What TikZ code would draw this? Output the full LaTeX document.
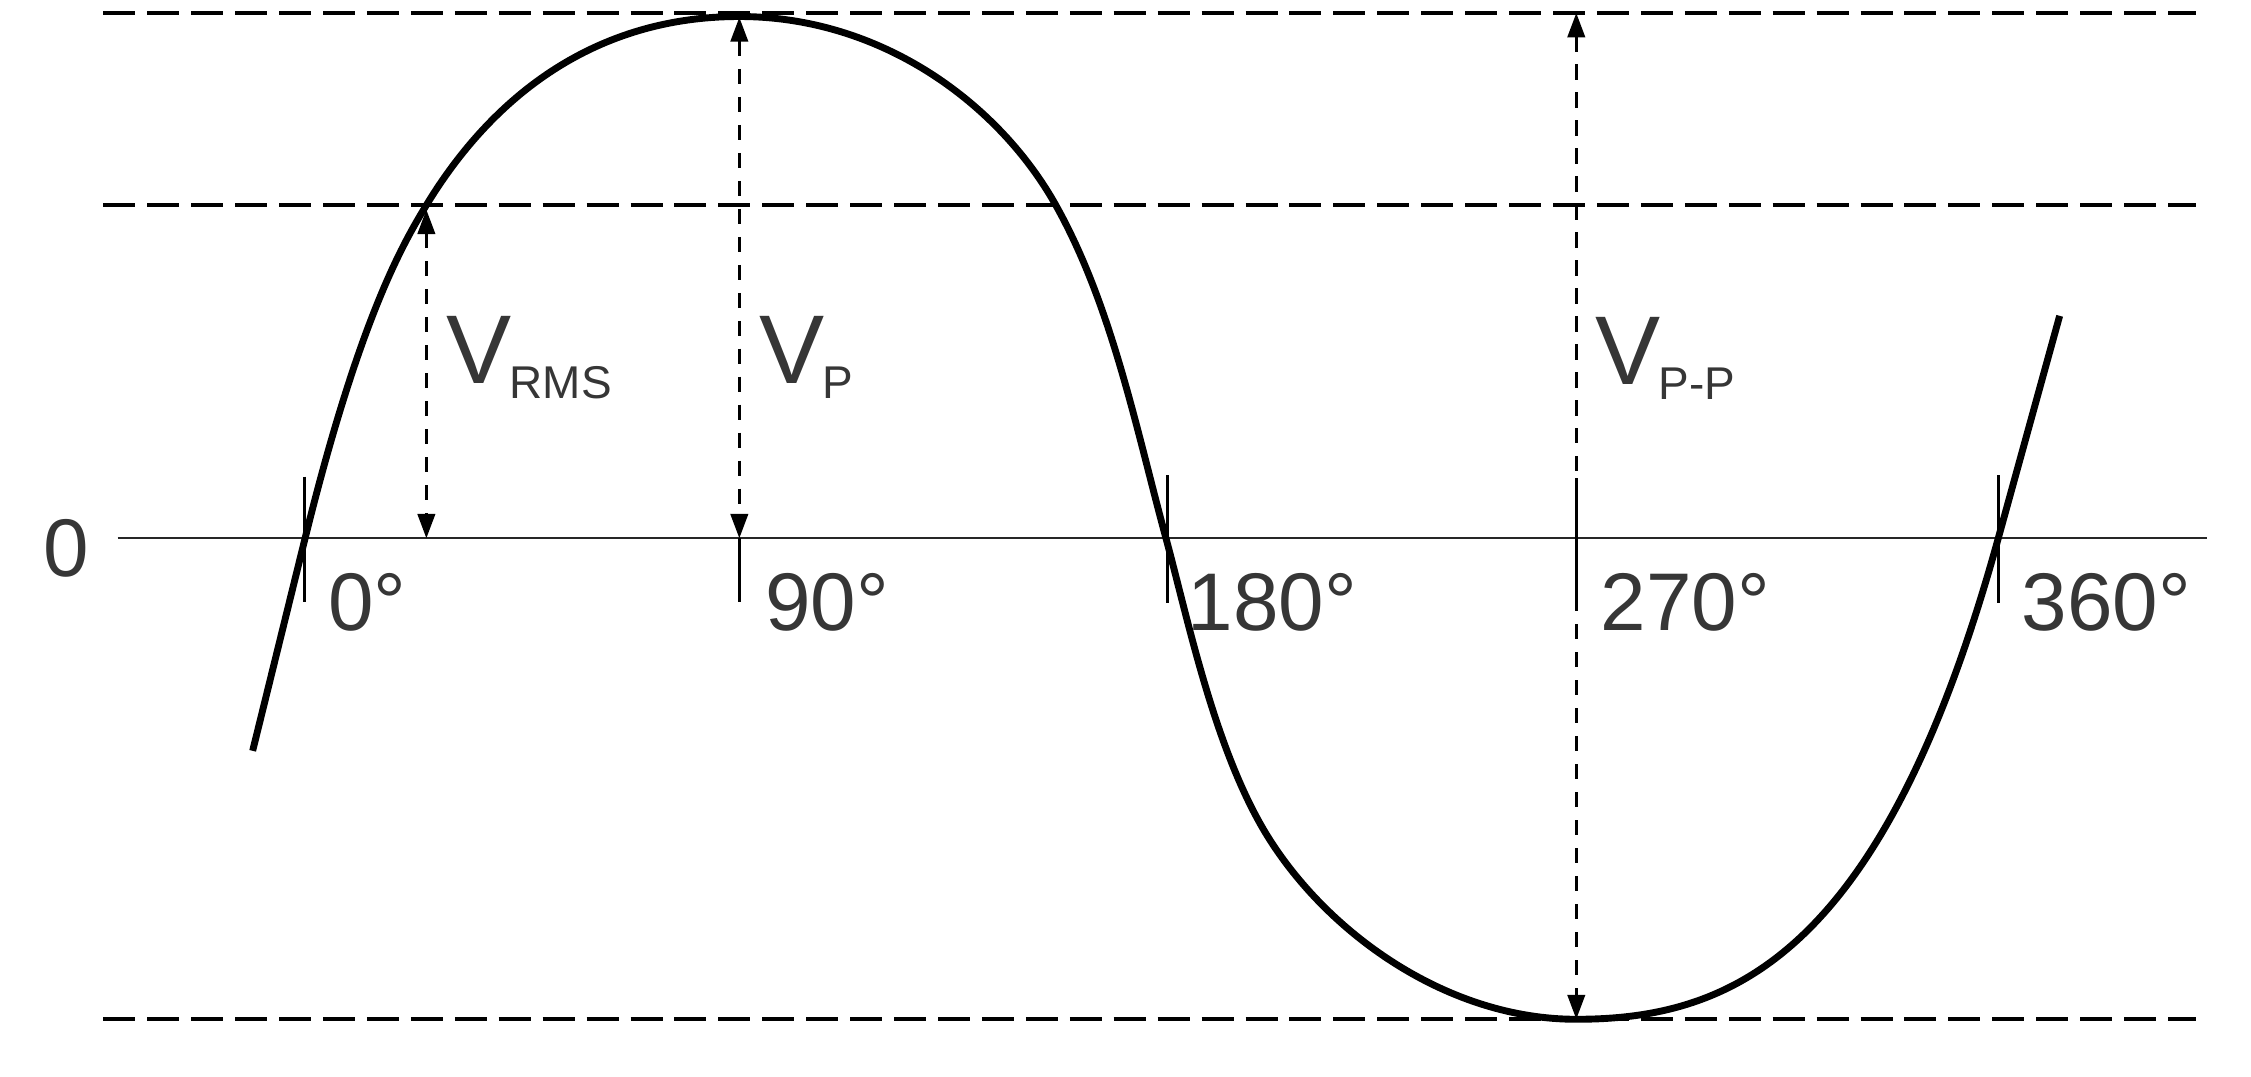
\documentclass[tikz,border=0pt]{standalone}
\usepackage{fontspec}
\setmainfont{Liberation Sans}
\usetikzlibrary{arrows.meta}
\definecolor{txt}{HTML}{363636}
\begin{document}
\begin{tikzpicture}[x=1pt,y=-1pt,
  refline/.style={line width=2.8pt,dash pattern=on 22.3pt off 8.3pt},
  axisline/.style={line width=1.2pt,black!85},
  tickline/.style={line width=2pt},
  dimarrow/.style={line width=2.3pt,dash pattern=on 10.5pt off 9pt,{Triangle[length=17pt,width=12pt]}-{Triangle[length=17pt,width=12pt]}},
  wave/.style={line width=4.8pt,line join=round},
  ticklbl/.style={anchor=base west,inner sep=0pt,text=txt,font=\fontsize{57}{59}\selectfont},
  vlbl/.style={anchor=base west,inner sep=0pt,text=txt,font=\fontsize{68}{70}\selectfont}]
\newcommand{\vsub}[1]{V\kern-1.5pt\raisebox{-10.5pt}{\fontsize{32}{34}\selectfont #1}}
\useasboundingbox (0,0) rectangle (1568,750);
% reference levels
\coordinate (topL) at (72,9.3);   \coordinate (topR) at (1530,9.3);
\coordinate (rmsL) at (72,143); \coordinate (rmsR) at (1530,143);
\coordinate (botL) at (72,710); \coordinate (botR) at (1530,710);
\draw[refline] (topL) -- (topR);
\draw[refline] (rmsL) -- (rmsR);
\draw[refline] (botL) -- (botR);
% axis
\coordinate (axL) at (82,375); \coordinate (axR) at (1537,375);
\draw[axisline] (axL) -- (axR);
\node[anchor=base west,inner sep=0pt,text=txt,font=\fontsize{57}{59}\selectfont] (zero) at (30,401.7) {0};
% ticks
\coordinate (t0a) at (212,332);  \coordinate (t0b) at (212,419);
\coordinate (t90a) at (515,375); \coordinate (t90b) at (515,419);
\coordinate (t180a) at (813,331); \coordinate (t180b) at (813,420);
\coordinate (t270a) at (1098,333); \coordinate (t270b) at (1098,423);
\coordinate (t360a) at (1392,331); \coordinate (t360b) at (1392,420);
\foreach \t in {0,90,180,270,360} {\draw[tickline] (t\t a) -- (t\t b);}
\node[ticklbl] (l0) at (228.5,439) {0°};
\node[ticklbl] (l90) at (533,439) {90°};
\node[ticklbl] (l180) at (827,439) {180°};
\node[ticklbl] (l270) at (1115,439) {270°};
\node[ticklbl] (l360) at (1408,439) {360°};
% wave
\draw[wave] (176,523) -- (212.5,375)
  .. controls (250.9,219.7) and (281.3,168.9) .. (296.8,143.2)
  .. controls (343.4,66.2) and (415,11.5) .. (515,11.5)
  .. controls (615,11.5) and (696.5,73.2) .. (735.5,143)
  .. controls (774.5,212.8) and (791.2,297.8) .. (812.2,375)
  .. controls (827.9,432.9) and (846.9,526.1) .. (884.6,585.1)
  .. controls (927.6,652.5) and (1010,710) .. (1098,710)
  .. controls (1208,710) and (1312.2,663.9) .. (1392,374.7)
  -- (1434.7,220);
% dimension arrows
\coordinate (rmsA) at (297,146); \coordinate (rmsB) at (297,375);
\coordinate (pA) at (515,12);    \coordinate (pB) at (515,375);
\coordinate (ppA) at (1098,9);   \coordinate (ppB) at (1098,710);
\draw[dimarrow] (rmsA) -- (rmsB);
\draw[dimarrow] (pA) -- (pB);
\draw[dimarrow] (ppA) -- (ppB);
% labels
\node[vlbl] (vrms) at (311,267) {\vsub{RMS}};
\node[vlbl] (vp) at (529,267) {\vsub{P}};
\node[vlbl] (vpp) at (1111.5,268) {\vsub{P-P}};
\end{tikzpicture}
\end{document}
